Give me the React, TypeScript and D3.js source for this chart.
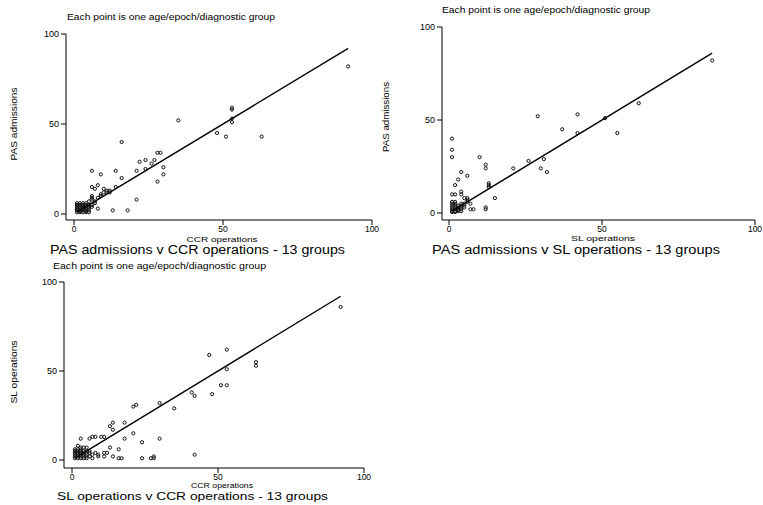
import React from "react";
import * as d3 from "d3";

// ---- data ----
const tickValues = [0, 50, 100];
const subtitle = "Each point is one age/epoch/diagnostic group";
const panelTitles = [
  "PAS admissions v CCR operations - 13 groups",
  "PAS admissions v SL operations - 13 groups",
  "SL operations v CCR operations - 13 groups",
];
const xLabels = ["CCR operations", "SL operations", "CCR operations"];
const yLabels = ["PAS admissions", "PAS admissions", "SL operations"];

// Panel 1: x = CCR operations, y = PAS admissions
const ccrVsPas: [number, number][] = [
  [92, 82], [53, 59], [53, 58], [53, 53], [53, 51], [35, 52], [48, 45], [51, 43], [63, 43], [16, 40],
  [28, 34], [29, 34], [24, 30], [27, 30], [22, 29], [26, 28], [30, 26], [24, 25], [30, 22], [28, 18],
  [6, 24], [9, 22], [14, 24], [21, 24], [16, 20], [21, 8], [13, 2], [18, 2], [8, 3],
  [6, 15], [7, 14], [8, 16], [14, 15], [10, 14], [11, 13], [12, 13], [11, 12], [12, 12], [9, 11],
  [10, 12], [6, 10], [6, 9], [6, 8], [8, 9], [9, 10], [7, 7], [5, 7], [4, 6], [7, 6],
  [1, 1], [1, 2], [1, 3], [1, 4], [1, 6], [1, 5], [2, 1], [2, 2], [2, 3], [2, 4], [2, 5], [3, 1],
  [3, 2], [3, 3], [3, 4], [3, 5], [4, 1], [4, 2], [4, 3], [4, 4], [4, 5], [5, 2], [5, 3], [5, 4],
  [5, 5], [6, 4], [6, 5], [2, 6], [3, 6], [1, 2.5], [2, 1.5], [3, 2.5], [4, 1.5], [5, 1],
];

// Panel 2: x = SL operations, y = PAS admissions
const slVsPas: [number, number][] = [
  [86, 82], [62, 59], [29, 52], [42, 53], [37, 45], [42, 43], [55, 43], [51, 51], [21, 24], [26, 28],
  [31, 29], [30, 24], [32, 22], [1, 40], [1, 34], [1, 30], [10, 30], [12, 26], [12, 24], [4, 22],
  [6, 20], [3, 18], [2, 15], [13, 16], [13, 15], [13, 14], [15, 8], [1, 10], [2, 10], [4, 11.5],
  [4, 10], [5, 8], [6, 8], [6, 7], [1, 5], [2, 5], [4, 5], [5, 5], [6, 6], [7, 5], [8, 2], [7, 2],
  [12, 3], [12, 2], [3, 3], [1, 1], [1, 2], [1, 3], [1, 4], [2, 1], [2, 2], [2, 3], [2, 4], [3, 1],
  [3, 2], [4, 2], [4, 3], [4, 4], [5, 3], [5, 4], [1, 0.5], [2, 0.5], [3, 4], [1, 6], [2, 6],
  [3, 1.5], [4, 1],
];

// Panel 3: x = CCR operations, y = SL operations
const ccrVsSl: [number, number][] = [
  [92, 86], [53, 62], [47, 59], [63, 55], [63, 53], [53, 51], [51, 42], [53, 42], [48, 37], [41, 38],
  [42, 36], [35, 29], [30, 32], [21, 30], [22, 31], [21, 15], [24, 10], [30, 12], [42, 3], [24, 1],
  [27, 1], [28, 2], [28, 1], [13, 19], [14, 21], [14, 17], [18, 21], [18, 12], [16, 6], [13, 7],
  [12, 4], [11, 2], [14, 2], [16, 1], [17, 1], [7, 13], [8, 13], [10, 13], [11, 13], [6, 12],
  [3, 12], [2, 8], [3, 7], [4, 7], [5, 7], [6, 5], [8, 4], [9, 3], [9, 2], [6, 4], [6, 2], [7, 1],
  [7, 3], [11, 4], [1, 1], [1, 2], [1, 3], [1, 4], [1, 5], [2, 1], [2, 2], [2, 3], [2, 4], [2, 5],
  [3, 1], [3, 2], [3, 3], [3, 4], [3, 5], [4, 1], [4, 2], [4, 3], [4, 5], [5, 1], [5, 2], [5, 3],
  [5, 5], [2, 6], [3, 6], [1, 6], [4, 4],
];

const panelData = [ccrVsPas, slVsPas, ccrVsSl];

// ---- layout ----
const layouts = [
  { xr: [74, 372], yr: [214, 34], axX: 66, axY: 220, subX: 67, subY: 20, subW: 208, yLabX: 17, yLabC: 124, yLabW: 73, xLabC: 222, xLabY: 241.5, xLabW: 71, tX: 197.5, tY: 253.5, tW: 295 },
  { xr: [449, 755], yr: [213, 27], axX: 442, axY: 220, subX: 442, subY: 13.3, subW: 208, yLabX: 389, yLabC: 117, yLabW: 70, xLabC: 603, xLabY: 241, xLabW: 64, tX: 576, tY: 253.5, tW: 288 },
  { xr: [72, 364], yr: [460, 282], axX: 64, axY: 468, subX: 53, subY: 268.7, subW: 213, yLabX: 17, yLabC: 372, yLabW: 63, xLabC: 222, xLabY: 487.5, xLabW: 62, tX: 192.5, tY: 499.5, tW: 271 },
];

const FONT = "'Liberation Sans', Arial, Helvetica, sans-serif";

function Panel({ idx }: { idx: number }) {
  const L = layouts[idx];
  const data = panelData[idx];
  const x = d3.scaleLinear().domain([0, 100]).range(L.xr);
  const y = d3.scaleLinear().domain([0, 100]).range(L.yr);
  const [xmin, xmax] = d3.extent(data, (d) => d[0]) as [number, number];
  const fitLine = d3
    .line<number>()
    .x((v) => x(v))
    .y((v) => y(v))([xmin, xmax]);
  const tick = 5;
  return (
    <g>
      <text x={L.subX} y={L.subY} fontSize={8.5} textLength={L.subW} lengthAdjust="spacingAndGlyphs" fill="#000">
        {subtitle}
      </text>
      {/* axes */}
      <line x1={L.axX} x2={L.axX} y1={y(100)} y2={L.axY} stroke="#000" strokeWidth={1} />
      <line x1={L.axX} x2={x(100)} y1={L.axY} y2={L.axY} stroke="#000" strokeWidth={1} />
      {tickValues.map((t) => (
        <g key={"y" + t}>
          <line x1={L.axX - tick} x2={L.axX} y1={y(t)} y2={y(t)} stroke="#000" strokeWidth={1} />
          <text x={L.axX - tick - 2} y={y(t) + 3} fontSize={9} textAnchor="end" fill="#000">
            {String(t)}
          </text>
        </g>
      ))}
      {tickValues.map((t) => (
        <g key={"x" + t}>
          <line x1={x(t)} x2={x(t)} y1={L.axY} y2={L.axY + tick} stroke="#000" strokeWidth={1} />
          <text x={x(t)} y={L.axY + 12} fontSize={8.5} textAnchor="middle" fill="#000">
            {String(t)}
          </text>
        </g>
      ))}
      <text
        transform={`translate(${L.yLabX},${L.yLabC}) rotate(-90)`}
        fontSize={8.5}
        textAnchor="middle"
        textLength={L.yLabW}
        lengthAdjust="spacingAndGlyphs"
        fill="#000"
      >
        {yLabels[idx]}
      </text>
      <text x={L.xLabC} y={L.xLabY} fontSize={8} textAnchor="middle" textLength={L.xLabW} lengthAdjust="spacingAndGlyphs" fill="#000">
        {xLabels[idx]}
      </text>
      <text x={L.tX} y={L.tY} fontSize={idx === 2 ? 11.5 : 12} textAnchor="middle" textLength={L.tW} lengthAdjust="spacingAndGlyphs" fill="#000">
        {panelTitles[idx]}
      </text>
      {/* points */}
      {data.map((d, i) => (
        <circle key={i} cx={x(d[0])} cy={y(d[1])} r={1.6} fill="none" stroke="#111" strokeWidth={1} />
      ))}
      <path d={fitLine || ""} fill="none" stroke="#000" strokeWidth={1.4} />
    </g>
  );
}

export default function App() {
  return (
    <svg
      width={763}
      height={505}
      viewBox="0 0 763 505"
      style={{ position: "absolute", left: 0, top: 0, background: "#fff", fontFamily: FONT }}
    >
      <rect x={0} y={0} width={763} height={505} fill="#fff" />
      {[0, 1, 2].map((i) => (
        <Panel key={i} idx={i} />
      ))}
    </svg>
  );
}
